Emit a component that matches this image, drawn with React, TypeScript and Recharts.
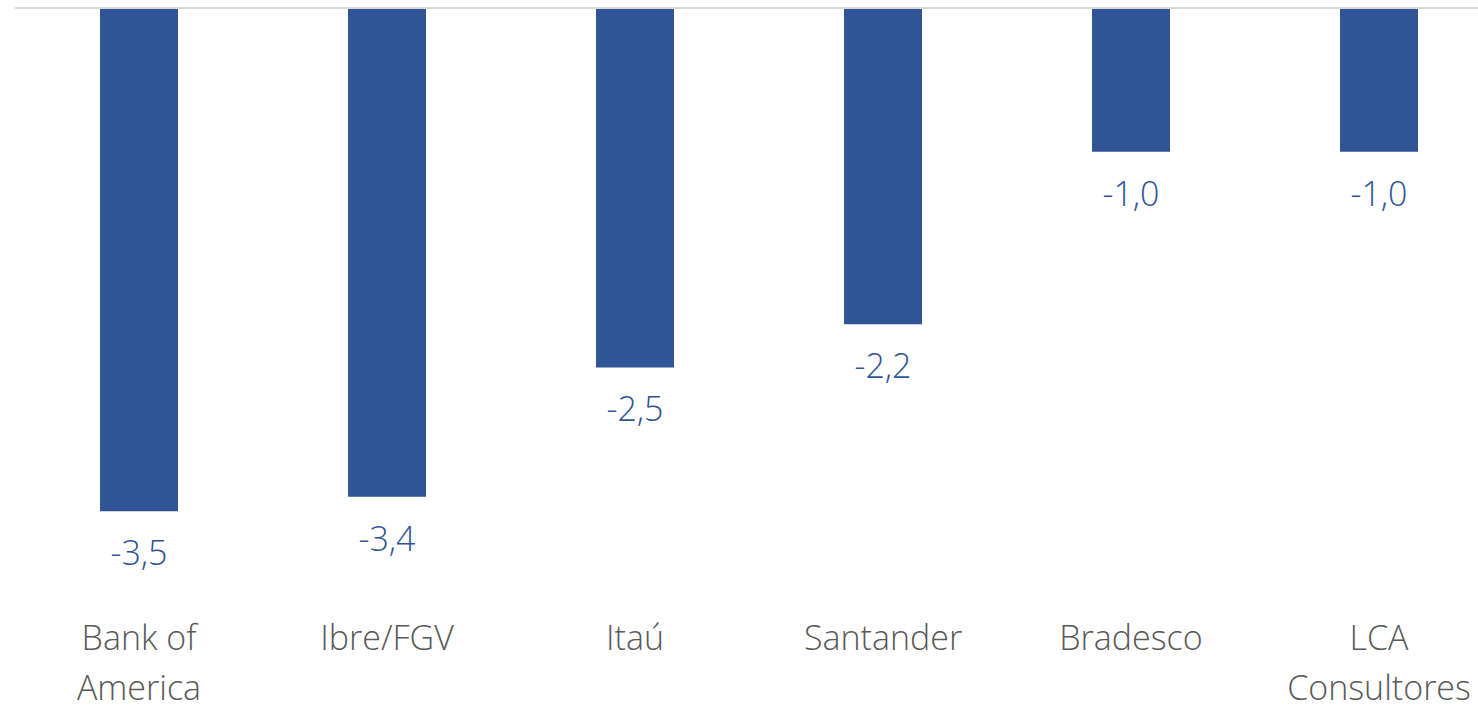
import React from "react";
import { BarChart, Bar, XAxis, YAxis, ReferenceLine, LabelList } from "recharts";

// categories and projected values
const categories = ["Bank of America", "Ibre/FGV", "Itaú", "Santander", "Bradesco", "LCA Consultores"];
const values = [-3.5, -3.4, -2.5, -2.2, -1.0, -1.0];

const BAR_COLOR = "#2F5597";
const TEXT_GREY = "#595959";
const FONT = "'Open Sans', 'Noto Sans', sans-serif";

const data = categories.map((name, i) => ({ name, value: values[i] }));

// split long names on the last space, like the wrapped labels in the original
function splitLabel(label: string): string[] {
  if (label.length > 10 && label.includes(" ")) {
    const idx = label.lastIndexOf(" ");
    return [label.slice(0, idx), label.slice(idx + 1)];
  }
  return [label];
}

const CategoryTick = (props: any) => {
  const { x, y, payload } = props;
  const lines = splitLabel(payload.value);
  return (
    <g transform={`translate(${x},${y})`}>
      {lines.map((line, i) => (
        <text
          key={line}
          x={0}
          y={59 + i * 50}
          textAnchor="middle"
          fill={TEXT_GREY}
          fontSize={34}
          fontWeight={300}
          fontFamily={FONT}
        >
          {line}
        </text>
      ))}
    </g>
  );
};

const ValueLabel = (props: any) => {
  const { x, y, width, height, value } = props;
  const bottom = Math.max(y, y + height);
  return (
    <text
      x={x + width / 2}
      y={bottom + 54}
      textAnchor="middle"
      fill={BAR_COLOR}
      fontSize={34}
      fontWeight={300}
      fontFamily={FONT}
    >
      {value.toFixed(1).replace(".", ",")}
    </text>
  );
};

export default function App() {
  return (
    <div
      style={{
        position: "fixed",
        left: 0,
        top: 0,
        width: 1478,
        height: 706,
        overflow: "hidden",
        background: "#fff",
      }}
    >
      <BarChart
        width={1503}
        height={706}
        data={data}
        margin={{ top: 8, right: 0, bottom: 0, left: 15 }}
      >
        <XAxis
          dataKey="name"
          axisLine={false}
          tickLine={false}
          height={123}
          interval={0}
          tick={<CategoryTick />}
        />
        <YAxis hide domain={[-4, 0]} />
        <ReferenceLine y={0} stroke="#D9D9D9" strokeWidth={2} />
        <Bar dataKey="value" fill={BAR_COLOR} barSize={78} isAnimationActive={false}>
          <LabelList dataKey="value" content={<ValueLabel />} />
        </Bar>
      </BarChart>
    </div>
  );
}
